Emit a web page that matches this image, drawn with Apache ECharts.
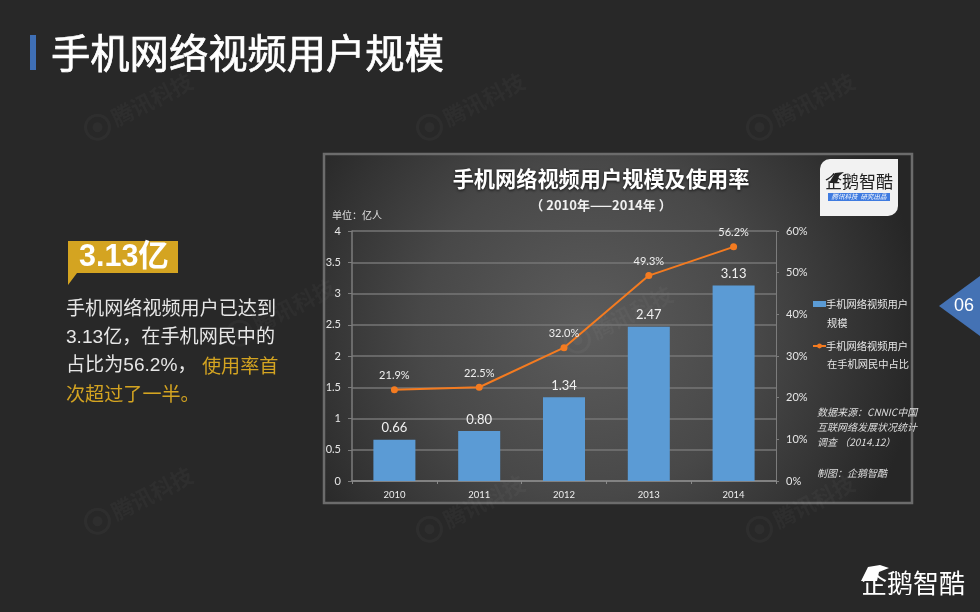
<!DOCTYPE html>
<html>
<head>
<meta charset="utf-8">
<title>手机网络视频用户规模</title>
<style>
  html, body { margin: 0; padding: 0; background: #282828; }
  #chart { width: 980px; height: 612px; }
</style>
<script src="https://cdn.jsdelivr.net/npm/echarts@6/dist/echarts.min.js"></script>
</head>
<body>
<div id="chart"></div>
<script>
var years = ['2010', '2011', '2012', '2013', '2014'];
var userCounts = [0.66, 0.80, 1.34, 2.47, 3.13];
var usageRates = [21.9, 22.5, 32.0, 49.3, 56.2];
var countName = '手机网络视频用户\n规模';
var rateName = '手机网络视频用户\n在手机网民中占比';
var sourceLines = ['数据来源：CNNIC中国', '互联网络发展状况统计', '调查 （2014.12）', '', '制图：企鹅智酷'];
var watermarkSpots = [[94, 138], [426, 138], [756, 138], [236, 344], [574, 351], [94, 532], [426, 540], [756, 540]];

var cjk = '"Noto Sans CJK SC", sans-serif';
var latin = 'Lato, "Noto Sans CJK SC", sans-serif';

// 普通文字
function label(x, y, text, fill, font, align, z) {
  return {
    type: 'text',
    x: x,
    y: y,
    z: z || 1,
    style: { text: text, fill: fill, font: font, textAlign: align || 'left', textVerticalAlign: 'middle' }
  };
}

// 水印
function watermark(spot) {
  return {
    type: 'group',
    x: spot[0],
    y: spot[1],
    rotation: 0.47,
    z: 5,
    silent: true,
    children: [
      { type: 'circle', shape: { cx: 8, cy: -8, r: 12 }, style: { fill: 'none', stroke: 'rgba(255,255,255,0.03)', lineWidth: 3 } },
      { type: 'circle', shape: { cx: 8, cy: -8, r: 5 }, style: { fill: 'rgba(255,255,255,0.03)' } },
      { type: 'text', x: 25, y: -8, style: { text: '腾讯科技', fill: 'rgba(255,255,255,0.03)', font: 'bold 22px ' + cjk, textVerticalAlign: 'middle' } }
    ]
  };
}

var titleText = label(51, 53, '手机网络视频用户规模', '#ffffff', '39.3px ' + cjk);
titleText.style.stroke = '#ffffff';
titleText.style.lineWidth = 0.7;

var graphics = [
  // 页面标题
  { type: 'rect', shape: { x: 30, y: 35, width: 6, height: 35 }, style: { fill: '#3f6fb5' } },
  titleText,
  // 左侧说明
  { type: 'polygon', shape: { points: [[68, 241], [178, 241], [178, 273], [77, 273], [68, 285]] }, style: { fill: '#d4a421' } },
  label(79, 258, '3.13亿', '#ffffff', 'bold 30.5px "Liberation Sans", ' + cjk),
  label(66, 310, '手机网络视频用户已达到', '#e6e6e6', '19.1px "Liberation Sans", ' + cjk),
  label(66, 338, '3.13亿，在手机网民中的', '#e6e6e6', '19.1px "Liberation Sans", ' + cjk),
  label(66, 366, '占比为56.2%，', '#e6e6e6', '19.1px "Liberation Sans", ' + cjk),
  label(202, 366, '使用率首', '#d4a421', '19.1px ' + cjk),
  label(66, 394, '次超过了一半。', '#d4a421', '19.1px ' + cjk),
  // 页码
  { type: 'polygon', shape: { points: [[939, 306], [980, 276], [980, 336]] }, style: { fill: '#4472b4' } },
  label(964, 306, '06', '#ffffff', '18px "Liberation Sans", sans-serif', 'center'),
  // 图表底板
  {
    type: 'rect',
    shape: { x: 324, y: 154, width: 588, height: 349 },
    style: {
      fill: new echarts.graphic.RadialGradient(0.45, 0.5, 0.95, [
        { offset: 0, color: '#5c5c5c' },
        { offset: 0.5, color: '#484848' },
        { offset: 1, color: '#262626' }
      ]),
      stroke: '#6c6c6c',
      lineWidth: 2.5
    }
  },
  {
    type: 'text',
    x: 601,
    y: 179,
    z: 1,
    style: {
      text: '手机网络视频用户规模及使用率',
      fill: '#ffffff',
      font: 'bold 21.2px ' + cjk,
      textAlign: 'center',
      textVerticalAlign: 'middle',
      textShadowColor: 'rgba(0,0,0,0.8)',
      textShadowBlur: 3,
      textShadowOffsetY: 1
    }
  },
  label(601, 205, '（ 2010年——2014年 ）', '#f0f0f0', 'bold 13px ' + cjk, 'center'),
  label(332, 215, '单位：亿人', '#e0e0e0', '10px ' + cjk),
  // 图内 logo
  { type: 'rect', shape: { x: 820, y: 159, width: 78, height: 57, r: [10, 0, 10, 0] }, style: { fill: '#f2f2f2' } },
  label(859, 182, '企鹅智酷', '#222222', '17px ' + cjk, 'center', 2),
  { type: 'rect', z: 2, shape: { x: 828, y: 193, width: 62, height: 8 }, style: { fill: '#3f7be0' } },
  label(859, 197, '腾讯科技  研究出品', '#ffffff', 'italic 6.5px ' + cjk, 'center', 3),
  { type: 'polygon', z: 2, shape: { points: [[829, 183], [835, 173], [844, 172], [839, 176], [837, 183]] }, style: { fill: '#222222' } },
  // 右下角 logo
  label(965, 583, '企鹅智酷', '#ffffff', '26px ' + cjk, 'right'),
  { type: 'polygon', shape: { points: [[861, 581], [868, 567], [880, 565], [889, 568], [879, 572], [877, 581]] }, style: { fill: '#ffffff' } },
  // 图例第二行
  label(827, 323, countName.split('\n')[1], '#e6e6e6', '10.25px ' + cjk),
  label(827, 364, rateName.split('\n')[1], '#e6e6e6', '10.25px ' + cjk)
];

sourceLines.forEach(function (line, i) {
  graphics.push(label(817, 412 + i * 15.2, line, '#dddddd', 'italic 10px ' + cjk));
});
watermarkSpots.forEach(function (spot) {
  graphics.push(watermark(spot));
});

var chart = echarts.init(document.getElementById('chart'));
chart.setOption({
  animation: false,
  backgroundColor: '#282828',
  graphic: { elements: graphics },
  grid: { left: 352, right: 204, top: 231, bottom: 131 },
  legend: {
    orient: 'vertical',
    left: 807,
    top: 290,
    itemGap: 24,
    itemWidth: 13,
    itemHeight: 6,
    formatter: function (name) { return name.split('\n')[0]; },
    textStyle: { color: '#e6e6e6', fontFamily: cjk, fontSize: 10.25, lineHeight: 18, padding: [0, 0, 0, -5] },
    data: [
      { name: countName, icon: 'rect' },
      { name: rateName }
    ]
  },
  xAxis: {
    type: 'category',
    data: years,
    axisLine: { lineStyle: { color: '#8a8a8a', width: 1.5 } },
    axisTick: { show: true, alignWithLabel: false, length: 3, lineStyle: { color: '#8a8a8a' } },
    axisLabel: { color: '#eeeeee', fontFamily: latin, fontSize: 9.5, margin: 9 }
  },
  yAxis: [{
    type: 'value',
    min: 0,
    max: 4,
    interval: 0.5,
    axisLine: { show: true, lineStyle: { color: '#7c7c7c', width: 1.5 } },
    axisTick: { show: true, length: 4, lineStyle: { color: '#7c7c7c' } },
    axisLabel: { color: '#e6e6e6', fontFamily: latin, fontSize: 11, margin: 11 },
    splitLine: { lineStyle: { color: '#767676', width: 1.5 } }
  }, {
    type: 'value',
    min: 0,
    max: 60,
    interval: 10,
    axisLine: { show: true, lineStyle: { color: '#7c7c7c', width: 1 } },
    axisTick: { show: true, length: 3, lineStyle: { color: '#7c7c7c' } },
    axisLabel: { color: '#e6e6e6', fontFamily: latin, fontSize: 11, margin: 10, formatter: '{value}%' },
    splitLine: { show: false }
  }],
  series: [{
    name: countName,
    type: 'bar',
    barWidth: 42,
    data: userCounts,
    itemStyle: { color: '#5b9bd5' },
    label: {
      show: true,
      position: 'top',
      distance: 5,
      color: '#f0f0f0',
      fontFamily: latin,
      fontSize: 13,
      formatter: function (p) { return p.value.toFixed(2); }
    }
  }, {
    name: rateName,
    type: 'line',
    yAxisIndex: 1,
    data: usageRates,
    symbol: 'circle',
    symbolSize: 7,
    lineStyle: { color: '#f47b20', width: 2 },
    itemStyle: { color: '#f47b20' },
    label: {
      show: true,
      position: 'top',
      distance: 5,
      color: '#eeeeee',
      fontFamily: latin,
      fontSize: 11,
      formatter: function (p) { return p.value.toFixed(1) + '%'; }
    }
  }]
});
</script>
</body>
</html>
